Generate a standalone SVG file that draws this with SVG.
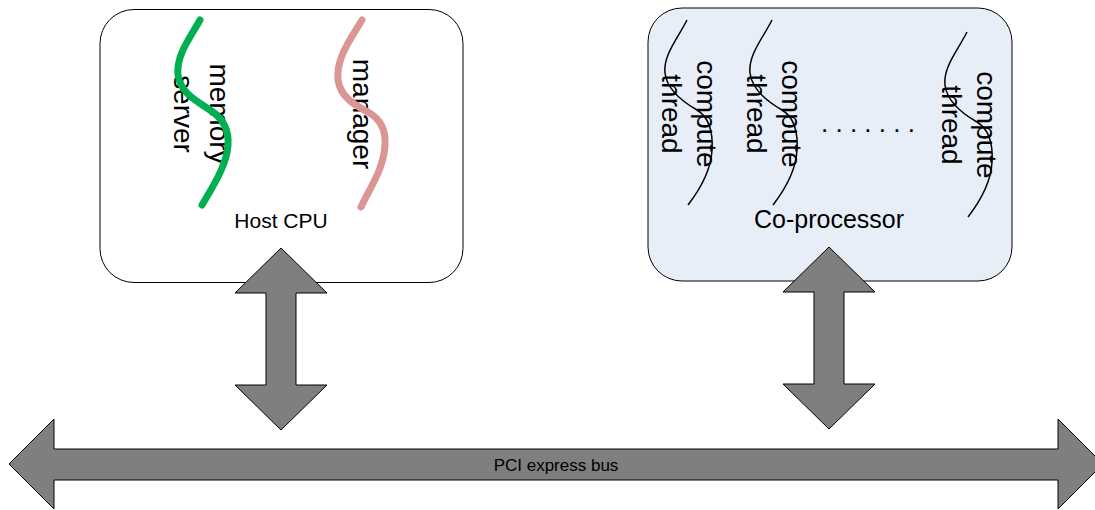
<svg xmlns="http://www.w3.org/2000/svg" width="1095" height="510" viewBox="0 0 1095 510">
<style>
  .box { stroke: #000; stroke-width: 1; }
  .lbl { font-family: "Liberation Sans", Arial, sans-serif; fill: #000; text-anchor: middle; }
  .rot { font-size: 28px; }
  .arrow { fill: #7F7F7F; stroke: #000; stroke-width: 1; stroke-linejoin: miter; }
  .thick { fill: none; stroke-width: 7; stroke-linecap: round; }
  .thin { fill: none; stroke: #000; stroke-width: 1.5; }
</style>
<defs>
  <path id="thr" d="M687,20 C678,38 663,55 665,73 C667,90 683,102 697,110 C710,118 713,134 712,150 C711,172 698,192 688,205"/>
</defs>

<g id="host-cpu">
  <rect class="box" x="100" y="9.5" width="363" height="273" rx="34" ry="34" fill="#FFFFFF"/>
  <g id="memory-server">
    <text class="lbl rot" transform="translate(210,114) rotate(90)"><tspan x="0" y="0">memory</tspan><tspan x="0" y="36">server</tspan></text>
    <path class="thick" stroke="#00B050" d="M200,20 C190,38 176,55 178,75 C180,92 195,100 210,110 C224,119 229,132 228,145 C227,165 212,188 202,205"/>
  </g>
  <g id="manager">
    <text class="lbl rot" transform="translate(353,114) rotate(90)">manager</text>
    <path class="thick" stroke="#D99694" d="M362,20 C350,40 336,58 338,80 C340,95 352,104 368,112 C382,120 386,132 385,145 C384,168 370,188 361,207"/>
  </g>
  <text class="lbl" x="281" y="228" font-size="21">Host CPU</text>
</g>

<g id="coprocessor">
  <rect class="box" x="648" y="8" width="364" height="273" rx="34" ry="34" fill="#E8EEF8"/>
  <g id="compute-thread-1">
    <text class="lbl rot" transform="translate(697,114) rotate(90)"><tspan x="0" y="0">compute</tspan><tspan x="0" y="35">thread</tspan></text>
    <use href="#thr" class="thin"/>
  </g>
  <g id="compute-thread-2">
    <text class="lbl rot" transform="translate(782,114) rotate(90)"><tspan x="0" y="0">compute</tspan><tspan x="0" y="35">thread</tspan></text>
    <use href="#thr" class="thin" transform="translate(85,0)"/>
  </g>
  <text class="lbl" x="868" y="132" font-size="26">. . . . . . .</text>
  <g id="compute-thread-3">
    <text class="lbl rot" transform="translate(977,125) rotate(90)"><tspan x="0" y="0">compute</tspan><tspan x="0" y="35">thread</tspan></text>
    <use href="#thr" class="thin" transform="translate(280,12)"/>
  </g>
  <text class="lbl" x="829" y="228" font-size="25">Co-processor</text>
</g>

<g id="connectors">
  <polygon class="arrow" points="281,248 327,293 296,293 296,385 327,385 281,430 235,385 266,385 266,293 235,293"/>
  <polygon class="arrow" points="829,247 875,292 844,292 844,384 875,384 829,429 783,384 814,384 814,292 783,292"/>
</g>

<g id="pci-bus">
  <polygon class="arrow" points="9,464 54,419 54,449 1058,449 1058,419 1103,464 1058,509 1058,480 54,480 54,509"/>
  <text class="lbl" x="556" y="471" font-size="17">PCI express bus</text>
</g>
</svg>
